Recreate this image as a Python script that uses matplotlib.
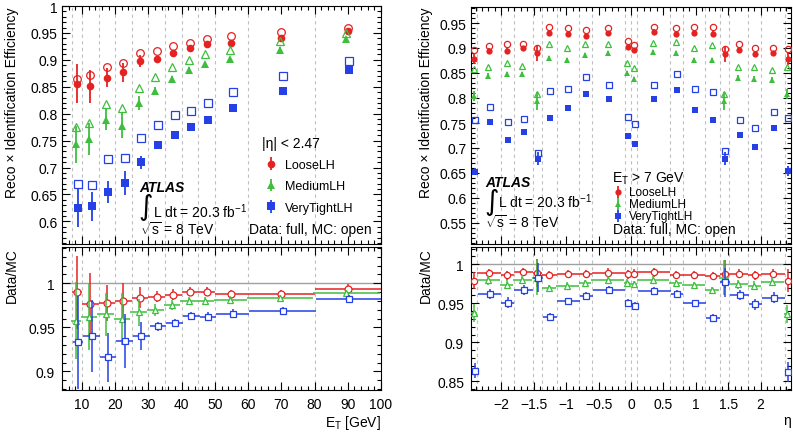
import numpy as np
import matplotlib
matplotlib.use('Agg')
import matplotlib.pyplot as plt
from matplotlib.ticker import MultipleLocator, FuncFormatter

plt.rcParams['font.family'] = ['Liberation Sans', 'DejaVu Sans']
plt.rcParams['mathtext.fontset'] = 'custom'
plt.rcParams['mathtext.rm'] = 'Liberation Sans'
plt.rcParams['mathtext.it'] = 'Liberation Sans:italic'
plt.rcParams['mathtext.bf'] = 'Liberation Sans:bold'

# ---- efficiency vs E_T ----
et_edges = [7, 10, 15, 20, 25, 30, 35, 40, 45, 50, 60, 80, 100]
et_loose_data = [0.856, 0.851, 0.867, 0.877, 0.898, 0.902, 0.913, 0.922, 0.929, 0.932, 0.940, 0.954]
et_loose_err = [0.036, 0.031, 0.018, 0.018, 0.011, 0.006, 0.006, 0.005, 0.005, 0.005, 0.005, 0.005]
et_loose_mc = [0.865, 0.872, 0.887, 0.895, 0.913, 0.916, 0.925, 0.931, 0.938, 0.944, 0.952, 0.960]
et_medium_data = [0.743, 0.753, 0.789, 0.778, 0.820, 0.843, 0.865, 0.882, 0.892, 0.902, 0.919, 0.938]
et_medium_err = [0.034, 0.029, 0.020, 0.024, 0.013, 0.006, 0.005, 0.004, 0.004, 0.004, 0.004, 0.004]
et_medium_mc = [0.776, 0.783, 0.818, 0.811, 0.848, 0.869, 0.887, 0.900, 0.910, 0.919, 0.935, 0.949]
et_tight_data = [0.625, 0.628, 0.655, 0.671, 0.710, 0.741, 0.761, 0.775, 0.789, 0.811, 0.843, 0.881]
et_tight_err = [0.035, 0.027, 0.020, 0.022, 0.012, 0.004, 0.004, 0.004, 0.004, 0.004, 0.004, 0.004]
et_tight_mc = [0.670, 0.668, 0.715, 0.718, 0.755, 0.779, 0.797, 0.805, 0.820, 0.840, 0.870, 0.897]

# ---- efficiency vs eta ----
eta_edges = [-2.47, -2.37, -2.01, -1.81, -1.52, -1.37, -1.15, -0.8, -0.6, -0.1, 0,
             0.1, 0.6, 0.8, 1.15, 1.37, 1.52, 1.81, 2.01, 2.37, 2.47]
eta_loose_data = [0.878, 0.895, 0.895, 0.900, 0.890, 0.930, 0.929, 0.925, 0.930, 0.903,
                  0.896, 0.933, 0.928, 0.930, 0.929, 0.888, 0.897, 0.888, 0.890, 0.879]
eta_loose_err = [0.010, 0.005, 0.005, 0.005, 0.016, 0.005, 0.005, 0.005, 0.005, 0.005,
                 0.005, 0.005, 0.005, 0.005, 0.005, 0.016, 0.005, 0.005, 0.005, 0.013]
eta_loose_mc = [0.897, 0.905, 0.908, 0.909, 0.900, 0.943, 0.941, 0.937, 0.940, 0.915,
                0.907, 0.943, 0.941, 0.943, 0.943, 0.899, 0.908, 0.901, 0.901, 0.898]
eta_medium_data = [0.805, 0.845, 0.848, 0.848, 0.795, 0.880, 0.876, 0.886, 0.891, 0.850,
                   0.838, 0.893, 0.891, 0.876, 0.877, 0.795, 0.841, 0.839, 0.837, 0.808]
eta_medium_err = [0.010, 0.005, 0.005, 0.005, 0.018, 0.004, 0.004, 0.004, 0.004, 0.004,
                  0.004, 0.004, 0.004, 0.004, 0.004, 0.018, 0.005, 0.005, 0.005, 0.010]
eta_medium_mc = [0.859, 0.863, 0.871, 0.865, 0.809, 0.908, 0.901, 0.908, 0.909, 0.871,
                 0.860, 0.911, 0.913, 0.900, 0.907, 0.809, 0.863, 0.863, 0.856, 0.863]
eta_tight_data = [0.653, 0.753, 0.716, 0.733, 0.679, 0.760, 0.780, 0.809, 0.799, 0.725,
                  0.708, 0.799, 0.816, 0.777, 0.757, 0.679, 0.727, 0.703, 0.740, 0.655]
eta_tight_err = [0.007, 0.005, 0.005, 0.005, 0.013, 0.004, 0.004, 0.004, 0.004, 0.004,
                 0.004, 0.004, 0.004, 0.004, 0.004, 0.013, 0.005, 0.005, 0.005, 0.010]
eta_tight_mc = [0.756, 0.783, 0.753, 0.758, 0.691, 0.815, 0.819, 0.843, 0.826, 0.763,
                0.748, 0.827, 0.848, 0.818, 0.813, 0.695, 0.757, 0.741, 0.773, 0.760]

names = ['LooseLH', 'MediumLH', 'VeryTightLH']
colors = ['#e52222', '#3dbf3d', '#2440e6']
markers = ['o', '^', 's']

W, H = 793, 435
fig = plt.figure(figsize=(W / 100, H / 100), dpi=100)


def px_axes(x0, x1, y0, y1):
    return fig.add_axes([x0 / W, 1 - y1 / H, (x1 - x0) / W, (y1 - y0) / H])


def fmt(v, pos):
    s = f'{round(v, 4):g}'
    return s.replace('-', '\u2212')


def style(ax, xmaj, xmin, ymaj, ymin):
    ax.xaxis.set_major_locator(MultipleLocator(xmaj))
    ax.xaxis.set_minor_locator(MultipleLocator(xmin))
    ax.yaxis.set_major_locator(MultipleLocator(ymaj))
    ax.yaxis.set_minor_locator(MultipleLocator(ymin))
    ax.xaxis.set_major_formatter(FuncFormatter(fmt))
    ax.yaxis.set_major_formatter(FuncFormatter(fmt))
    ax.tick_params(which='both', direction='in', top=True, right=True,
                   labelsize=10, width=0.8, pad=3)
    ax.tick_params(which='major', length=5.5)
    ax.tick_params(which='minor', length=3)
    for sp in ax.spines.values():
        sp.set_linewidth(0.8)


def draw(ax, axr, edges, series, offsets, ms, msr):
    edges = np.array(edges)
    centers = 0.5 * (edges[1:] + edges[:-1])
    halfw = 0.5 * (edges[1:] - edges[:-1])
    for e in edges[1:-1] if edges[0] < -2 else edges[:-1]:
        ax.axvline(e, color='#c0c0c0', ls=(0, (3, 3)), lw=0.8, zorder=0)
        axr.axvline(e, color='#c0c0c0', ls=(0, (3, 3)), lw=0.8, zorder=0)
    axr.axhline(1.0, color='#a0a0a0', lw=1.0, zorder=0)
    handles = []
    for k in [2, 1, 0]:
        d, derr, mc = [np.array(a) for a in series[k]]
        x = centers + offsets[k]
        eb = ax.errorbar(x, d, yerr=derr, fmt=markers[k], color=colors[k], ms=ms,
                         mew=0, elinewidth=1.3, capsize=0, zorder=3 + k)
        ax.plot(x, mc, markers[k], mfc='none', mec=colors[k], ms=ms, mew=0.9, zorder=3 + k)
        axr.errorbar(x, d / mc, xerr=halfw, yerr=derr / mc, fmt=markers[k], color=colors[k],
                     mfc='white', mec=colors[k], ms=msr, mew=0.9, elinewidth=1.1,
                     capsize=0, zorder=3 + k)
        handles.insert(0, eb)
    return handles


# ---------------- left: vs E_T ----------------
axL = px_axes(62, 381, 7, 245)
axLr = px_axes(62, 381, 248, 391)
hL = draw(axL, axLr, et_edges,
          [(et_loose_data, et_loose_err, et_loose_mc),
           (et_medium_data, et_medium_err, et_medium_mc),
           (et_tight_data, et_tight_err, et_tight_mc)],
          [0.0, -0.4, 0.4], 5.5, 5)
axL.set_xlim(4, 100)
axLr.set_xlim(4, 100)
axL.set_ylim(0.558, 1.0)
axLr.set_ylim(0.879, 1.041)
style(axL, 10, 2, 0.05, 0.01)
style(axLr, 10, 2, 0.05, 0.01)
axL.tick_params(labelbottom=False)
axLr.tick_params(pad=5)

axL.set_ylabel('Reco \u00d7 Identification Efficiency', fontsize=10, loc='top')
axL.yaxis.set_label_coords(-0.135, 1.0)
axLr.set_ylabel('Data/MC', fontsize=10, loc='top')
axLr.yaxis.set_label_coords(-0.135, 1.0)
axLr.set_xlabel(r'E$_{\mathrm{T}}$ [GeV]', fontsize=10, loc='right')
axLr.xaxis.set_label_coords(1.0, -0.16)

legL = axL.legend(hL, names, loc='upper left', bbox_to_anchor=(0.627, 0.455),
                  frameon=False, fontsize=9, title='|\u03b7| < 2.47', title_fontsize=10,
                  alignment='left', borderpad=0, borderaxespad=0, handlelength=1.5,
                  handletextpad=0.3, labelspacing=0.75)
axL.text(0.242, 0.24, 'ATLAS', transform=axL.transAxes, fontsize=10,
         fontweight='bold', fontstyle='italic', va='center')
axL.text(0.240, 0.158, '\u222b', transform=axL.transAxes, fontsize=20,
         va='center', family=['DejaVu Sans'])
axL.text(0.285, 0.139, r'L dt = 20.3 fb$^{-1}$', transform=axL.transAxes,
         fontsize=10, va='center')
axL.text(0.245, 0.063, r'$\sqrt{\mathrm{s}}$ = 8 TeV', transform=axL.transAxes,
         fontsize=10, va='center')
axL.text(0.972, 0.063, 'Data: full, MC: open', transform=axL.transAxes,
         fontsize=10, va='center', ha='right')

# ---------------- right: vs eta ----------------
axR = px_axes(471, 791, 8, 245)
axRr = px_axes(471, 791, 248, 391)
hR = draw(axR, axRr, eta_edges,
          [(eta_loose_data, eta_loose_err, eta_loose_mc),
           (eta_medium_data, eta_medium_err, eta_medium_mc),
           (eta_tight_data, eta_tight_err, eta_tight_mc)],
          [0.0, -0.01, 0.01], 4.5, 4.5)
axR.set_xlim(-2.47, 2.47)
axRr.set_xlim(-2.47, 2.47)
axR.set_ylim(0.508, 0.982)
axRr.set_ylim(0.839, 1.022)
style(axR, 0.5, 0.1, 0.05, 0.01)
style(axRr, 0.5, 0.1, 0.05, 0.01)
axR.tick_params(labelbottom=False)
axRr.tick_params(pad=5)

axR.set_ylabel('Reco \u00d7 Identification Efficiency', fontsize=10, loc='top')
axR.yaxis.set_label_coords(-0.119, 1.0)
axRr.set_ylabel('Data/MC', fontsize=10, loc='top')
axRr.yaxis.set_label_coords(-0.119, 1.0)
axRr.set_xlabel('\u03b7', fontsize=10, loc='right')
axRr.xaxis.set_label_coords(1.0, -0.16)

legR = axR.legend(hR, names, loc='upper left', bbox_to_anchor=(0.441, 0.313),
                  frameon=False, fontsize=8.5, title=r'E$_{\mathrm{T}}$ > 7 GeV',
                  title_fontsize=10, alignment='left', borderpad=0, borderaxespad=0,
                  handlelength=1.0, handleheight=0.4, handletextpad=0.45,
                  labelspacing=0.0)
axR.text(0.044, 0.262, 'ATLAS', transform=axR.transAxes, fontsize=10,
         fontweight='bold', fontstyle='italic', va='center')
axR.text(0.042, 0.180, '\u222b', transform=axR.transAxes, fontsize=20,
         va='center', family=['DejaVu Sans'])
axR.text(0.084, 0.181, r'L dt = 20.3 fb$^{-1}$', transform=axR.transAxes,
         fontsize=10, va='center')
axR.text(0.044, 0.093, r'$\sqrt{\mathrm{s}}$ = 8 TeV', transform=axR.transAxes,
         fontsize=10, va='center')
axR.text(0.444, 0.063, 'Data: full, MC: open', transform=axR.transAxes,
         fontsize=10, va='center')

fig.savefig('out.png', dpi=100)
